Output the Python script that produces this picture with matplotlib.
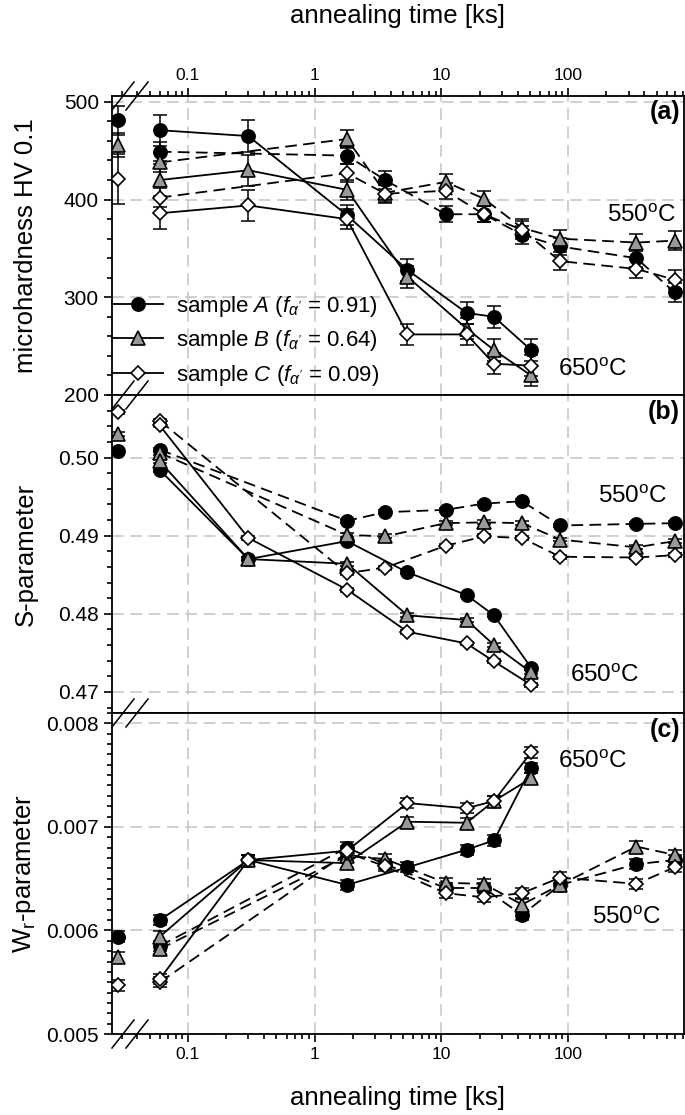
import matplotlib
matplotlib.use("Agg")
import matplotlib.pyplot as plt
from matplotlib.lines import Line2D
from matplotlib.ticker import FixedLocator, LogLocator, MultipleLocator, NullFormatter, FormatStrFormatter

plt.rcParams['font.family'] = ['Liberation Sans', 'DejaVu Sans']
plt.rcParams['mathtext.fontset'] = 'custom'
plt.rcParams['mathtext.rm'] = 'Liberation Sans'
plt.rcParams['mathtext.it'] = 'Liberation Sans:italic'
plt.rcParams['mathtext.bf'] = 'Liberation Sans:bold'

# annealing times [ks]
t_ref = [0.028]
t550 = [0.06, 1.8, 3.6, 10.8, 21.6, 43.2, 86.4, 345.6, 691.2]
t650 = [0.06, 0.3, 1.8, 5.4, 15.8, 26, 51]

# (a) microhardness HV 0.1
hv_ref = {'A': 481, 'B': 456, 'C': 421}
hv_ref_err = {'A': 15, 'B': 12, 'C': 26}
hv550_A = [449, 445, 420, 385, 385, 364, 352, 340, 305]
hv550_B = [438, 462, 407, 418, 401, 371, 360, 356, 358]
hv550_C = [402, 427, 406, 409, 385, 369, 337, 329, 318]
hv550_err = [10, 9, 9, 8, 8, 9, 9, 9, 10]
hv650_A = [471, 465, 384, 328, 284, 280, 246]
hv650_B = [420, 430, 410, 321, 268, 246, 220]
hv650_C = [386, 394, 380, 262, 262, 232, 230]
hv650_err = [16, 16, 10, 11, 11, 11, 11]

# (b) S-parameter
s_ref = {'A': 0.5008, 'B': 0.5030, 'C': 0.5058}
s550_A = [0.5010, 0.4919, 0.4930, 0.4933, 0.4941, 0.4944, 0.4913, 0.4915, 0.4916]
s550_B = [0.5006, 0.4901, 0.4899, 0.4916, 0.4917, 0.4916, 0.4895, 0.4885, 0.4893]
s550_C = [0.5047, 0.4852, 0.4859, 0.4887, 0.4899, 0.4897, 0.4873, 0.4872, 0.4875]
s650_A = [0.4984, 0.4870, 0.4893, 0.4853, 0.4824, 0.4798, 0.4731]
s650_B = [0.4995, 0.4870, 0.4864, 0.4798, 0.4792, 0.4760, 0.4725]
s650_C = [0.5041, 0.4897, 0.4831, 0.4777, 0.4762, 0.4739, 0.4709]
s_err = 0.00025

# (c) Wr-parameter
w_ref = {'A': 0.00594, 'B': 0.00574, 'C': 0.00547}
w550_A = [0.00585, 0.00680, 0.00664, 0.00641, 0.00641, 0.00615, 0.00644, 0.00664, 0.00668]
w550_B = [0.00582, 0.00672, 0.00669, 0.00646, 0.00645, 0.00625, 0.00644, 0.00681, 0.00673]
w550_C = [0.00550, 0.00675, 0.00662, 0.00636, 0.00632, 0.00636, 0.00651, 0.00645, 0.00661]
w650_A = [0.00610, 0.00668, 0.00644, 0.00661, 0.00678, 0.00687, 0.00757]
w650_B = [0.00594, 0.00668, 0.00665, 0.00705, 0.00704, 0.00725, 0.00747]
w650_C = [0.00553, 0.00668, 0.00677, 0.00723, 0.00718, 0.00725, 0.00772]
w_err = 0.00005

samples = ['A', 'B', 'C']
f_alpha = {'A': '0.91', 'B': '0.64', 'C': '0.09'}
styles = {'A': dict(marker='o', ms=9.5, mfc='black'),
          'B': dict(marker='^', ms=9.5, mfc='#999999'),
          'C': dict(marker='D', ms=7, mfc='white')}

DASH = (0, (6.5, 3.5))
LW = 1.3


def draw(ax, t, y, err, s, dashed):
    ax.errorbar(t, y, yerr=err, fmt='none', ecolor='black', elinewidth=1.1,
                capsize=5, capthick=1.1, zorder=3)
    ax.plot(t, y, color='black', lw=LW, ls=DASH if dashed else '-',
            mec='black', mew=1.2, zorder=4, **styles[s])


def draw_panel(ax, ref, ref_err, d550, d650, e550, e650):
    for s in samples:
        draw(ax, t_ref, [ref[s]], [ref_err[s]] if isinstance(ref_err, dict) else ref_err, s, False)
        draw(ax, t550, d550[s], e550, s, True)
        draw(ax, t650, d650[s], e650, s, False)


fig = plt.figure(figsize=(6.85, 11.15), dpi=100)
W, H = 685.0, 1115.0
left, right = 112 / W, 684 / W
edges = [96, 395, 713, 1034]
axes = []
for i in range(3):
    b = 1 - edges[i + 1] / H
    h = (edges[i + 1] - edges[i]) / H
    axes.append(fig.add_axes([left, b, right - left, h]))
ax_a, ax_b, ax_c = axes

draw_panel(ax_a, hv_ref, hv_ref_err,
           {'A': hv550_A, 'B': hv550_B, 'C': hv550_C},
           {'A': hv650_A, 'B': hv650_B, 'C': hv650_C}, hv550_err, hv650_err)
draw_panel(ax_b, s_ref, s_err,
           {'A': s550_A, 'B': s550_B, 'C': s550_C},
           {'A': s650_A, 'B': s650_B, 'C': s650_C}, s_err, s_err)
draw_panel(ax_c, w_ref, w_err,
           {'A': w550_A, 'B': w550_B, 'C': w550_C},
           {'A': w650_A, 'B': w650_B, 'C': w650_C}, w_err, w_err)

for ax in axes:
    ax.set_xscale('log')
    ax.set_xlim(0.0252, 820)
    ax.xaxis.set_major_locator(FixedLocator([0.1, 1, 10, 100]))
    ax.xaxis.set_major_formatter(FormatStrFormatter('%g'))
    ax.xaxis.set_minor_locator(LogLocator(base=10, subs=range(2, 10)))
    ax.xaxis.set_minor_formatter(NullFormatter())
    ax.grid(True, which='major', color='#c8c8c8', ls=(0, (7, 4)), lw=1.2)
    ax.set_axisbelow(True)
    for sp in ax.spines.values():
        sp.set_linewidth(1.3)
    ax.tick_params(axis='y', which='both', direction='out', left=True, right=False,
                   labelsize=15, width=1.2)
    ax.tick_params(axis='y', which='major', length=6)
    ax.tick_params(axis='y', which='minor', length=3.5)
    ax.tick_params(axis='x', which='both', direction='out', width=1.2, labelsize=12.5,
                   top=False, bottom=False, labeltop=False, labelbottom=False)
    ax.tick_params(axis='x', which='major', length=6)
    ax.tick_params(axis='x', which='minor', length=3.5)

ax_a.tick_params(axis='x', which='both', top=True, labeltop=True)
ax_a.xaxis.set_label_position('top')
ax_a.set_xlabel('annealing time [ks]', fontsize=18.5, labelpad=32)
ax_c.tick_params(axis='x', which='both', bottom=True, labelbottom=True)
ax_c.set_xlabel('annealing time [ks]', fontsize=18.5, labelpad=17)

ax_a.set_ylim(200, 506)
ax_a.yaxis.set_major_locator(MultipleLocator(100))
ax_a.yaxis.set_minor_locator(MultipleLocator(20))
ax_a.set_ylabel('microhardness HV 0.1', fontsize=18.5)

ax_b.set_ylim(0.4673, 0.508)
ax_b.yaxis.set_major_locator(FixedLocator([0.47, 0.48, 0.49, 0.50]))
ax_b.yaxis.set_major_formatter(FormatStrFormatter('%.2f'))
ax_b.yaxis.set_minor_locator(MultipleLocator(0.002))
ax_b.set_ylabel('S-parameter', fontsize=18.5)

ax_c.set_ylim(0.005, 0.0081)
ax_c.yaxis.set_major_locator(FixedLocator([0.005, 0.006, 0.007, 0.008]))
ax_c.yaxis.set_major_formatter(FormatStrFormatter('%.3f'))
ax_c.yaxis.set_minor_locator(MultipleLocator(0.0001))
ax_c.set_ylabel(r'W$_{\rm r}$-parameter', fontsize=18.5)

for ax in axes:
    ax.yaxis.set_label_coords(-0.13, 0.5)

# panel letters and temperature labels
for ax, lab in zip(axes, ['(a)', '(b)', '(c)']):
    ax.text(0.993, 0.985, lab, transform=ax.transAxes, ha='right', va='top',
            fontsize=18, fontweight='bold')

deg = '$^{\\rm o}$C'
ax_a.text(383, 382.9, '550' + deg, ha='center', va='center', fontsize=17.5)
ax_a.text(157, 225.6, '650' + deg, ha='center', va='center', fontsize=17.5)
ax_b.text(325, 0.49501, '550' + deg, ha='center', va='center', fontsize=17.5)
ax_b.text(195, 0.47208, '650' + deg, ha='center', va='center', fontsize=17.5)
ax_c.text(155, 0.007628, '650' + deg, ha='center', va='center', fontsize=17.5)
ax_c.text(292, 0.006123, '550' + deg, ha='center', va='center', fontsize=17.5)

# legend
handles = [Line2D([], [], color='black', lw=LW, mec='black', mew=1.2, **styles[s]) for s in samples]
labels = [r"sample $\it{%s}$ ($\it{f}_{\alpha'}$ = %s)" % (s, f_alpha[s]) for s in samples]
ax_a.legend(handles, labels, loc='lower left', bbox_to_anchor=(0.0, 0.025), frameon=False,
            fontsize=16, handlelength=2.3, handletextpad=0.6, borderpad=0, borderaxespad=0,
            labelspacing=0.42)

# axis break marks
for yb in edges:
    for x0 in (112, 126):
        fig.add_artist(Line2D([x0 / W, (x0 + 22) / W], [1 - (yb + 14) / H, 1 - (yb - 14) / H],
                              color='black', lw=1.1, transform=fig.transFigure))

fig.savefig('out.png', dpi=100)
